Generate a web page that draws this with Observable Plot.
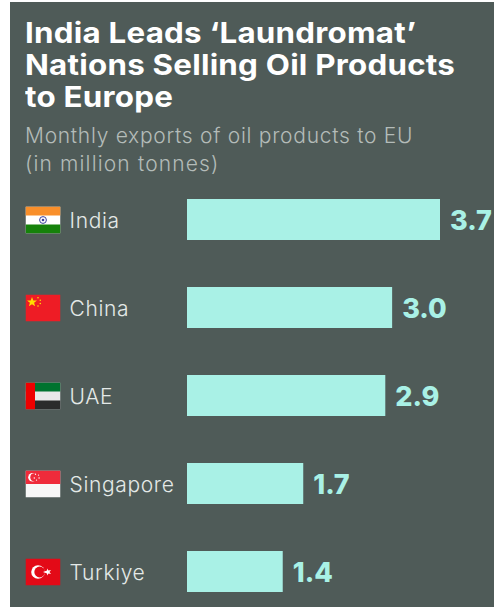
<!DOCTYPE html>
<html>
<head>
<meta charset="utf-8">
<script src="https://cdn.jsdelivr.net/npm/d3@7"></script>
<script src="https://cdn.jsdelivr.net/npm/@observablehq/plot@0.6"></script>
<style>
  html, body { margin: 0; padding: 0; background: #fff; }
  #panel { position: absolute; left: 10px; top: 2px; width: 484px; height: 605px; background: #4f5b58; overflow: hidden; }
  #title { position: absolute; left: 15px; top: 15px; margin: 0; font: 700 28.5px/32px Inter, sans-serif; color: #fff; letter-spacing: 0.2px; white-space: nowrap; transform: scaleX(1.1); transform-origin: left top; }
  #subtitle { position: absolute; left: 15px; top: 120px; margin: 0; font: 300 21px/28px Inter, sans-serif; color: #b4bcb9; letter-spacing: 0.72px; white-space: nowrap; }
  #subtitle span { letter-spacing: 1.15px; }
  #chart { position: absolute; left: 0; top: 174px; }
  svg { display: block; overflow: visible; }
  .names text { letter-spacing: 0.65px; }
</style>
</head>
<body>
<div id="panel">
  <h1 id="title">India Leads ‘Laundromat’<br>Nations Selling Oil Products<br>to Europe</h1>
  <p id="subtitle">Monthly exports of oil products to EU<br><span>(in million tonnes)</span></p>
  <div id="chart"></div>
</div>
<script>
const countries = ["India", "China", "UAE", "Singapore", "Turkiye"];
const exportsMt = [3.7, 3.0, 2.9, 1.7, 1.4];
const labels = ["3.7", "3.0", "2.9", "1.7", "1.4"];
const flagSvgs = [
  `<rect width="35" height="27" fill="#fff"/><rect width="35" height="9" fill="#f98f2b"/><rect y="18" width="35" height="9" fill="#16820b"/><circle cx="17.5" cy="13.5" r="3.4" fill="none" stroke="#3b3f9e" stroke-width="1"/><circle cx="17.5" cy="13.5" r="1.3" fill="#3b3f9e"/>`,
  `<rect width="35" height="27" fill="#ee1c25"/><polygon points="6.5,2.5 7.8,6 11.5,6.1 8.6,8.3 9.6,11.8 6.5,9.8 3.4,11.8 4.4,8.3 1.5,6.1 5.2,6" fill="#ffde00"/><g fill="#ffde00"><circle cx="12.5" cy="3.2" r="0.8"/><circle cx="14.8" cy="5.8" r="0.8"/><circle cx="14.8" cy="9" r="0.8"/><circle cx="12.5" cy="11.5" r="0.8"/></g>`,
  `<rect width="35" height="27" fill="#e8e8e8"/><rect width="35" height="9" fill="#00732f"/><rect y="18" width="35" height="9" fill="#2b2b2b"/><rect width="9.5" height="27" fill="#ee0000"/>`,
  `<rect width="35" height="27" fill="#f7f7f7"/><rect width="35" height="13.5" fill="#ef2b3b"/><circle cx="7" cy="6.7" r="4.3" fill="#fff"/><circle cx="8.8" cy="6.7" r="4" fill="#ef2b3b"/><g fill="#fff"><circle cx="10" cy="3.8" r="0.7"/><circle cx="13" cy="4.6" r="0.7"/><circle cx="13.6" cy="7.5" r="0.7"/><circle cx="11" cy="9.6" r="0.7"/><circle cx="8.8" cy="7.5" r="0.7"/></g>`,
  `<rect width="35" height="27" fill="#e30a17"/><circle cx="12.5" cy="13.5" r="6.8" fill="#fff"/><circle cx="14.2" cy="13.5" r="5.4" fill="#e30a17"/><polygon points="17.5,13.5 21.5,12 21.5,10 23,12 25.5,11.5 24,13.5 25.5,15.5 23,15 21.5,17 21.5,15" fill="#fff"/>`
];
const flagUri = s => "data:image/svg+xml," + encodeURIComponent(
  `<svg xmlns="http://www.w3.org/2000/svg" viewBox="0 0 35 27" width="35" height="27">${s}</svg>`);
const rows = countries.map((c, i) => ({country: c, value: exportsMt[i], label: labels[i], flag: flagUri(flagSvgs[i])}));

const chart = Plot.plot({
  width: 484,
  height: 431,
  marginLeft: 177,
  marginRight: 54,
  marginTop: 22.5,
  marginBottom: 15,
  style: {background: "transparent"},
  x: {domain: [0, 3.7], axis: null},
  y: {domain: countries, axis: null, paddingInner: 0.53, paddingOuter: 0, align: 0},
  marks: [
    Plot.barX(rows, {y: "country", x: "value", fill: "#a9f1e6"}),
    Plot.image(rows, {y: "country", frameAnchor: "left", dx: -144.5, src: "flag", width: 35, height: 27, preserveAspectRatio: "none"}),
    Plot.text(rows, {y: "country", text: "country", frameAnchor: "left", dx: -118, dy: 1, textAnchor: "start", fontSize: 21, fontWeight: 300, fontFamily: "Inter, sans-serif", fill: "#e4e9e7", className: "names"}),
    Plot.text(rows, {y: "country", x: "value", text: "label", textAnchor: "start", dx: 9.5, dy: 1.5, fontSize: 27, fontWeight: 800, fontFamily: "Inter, sans-serif", fill: "#a9f1e6"})
  ]
});
document.getElementById("chart").appendChild(chart);
</script>
</body>
</html>
